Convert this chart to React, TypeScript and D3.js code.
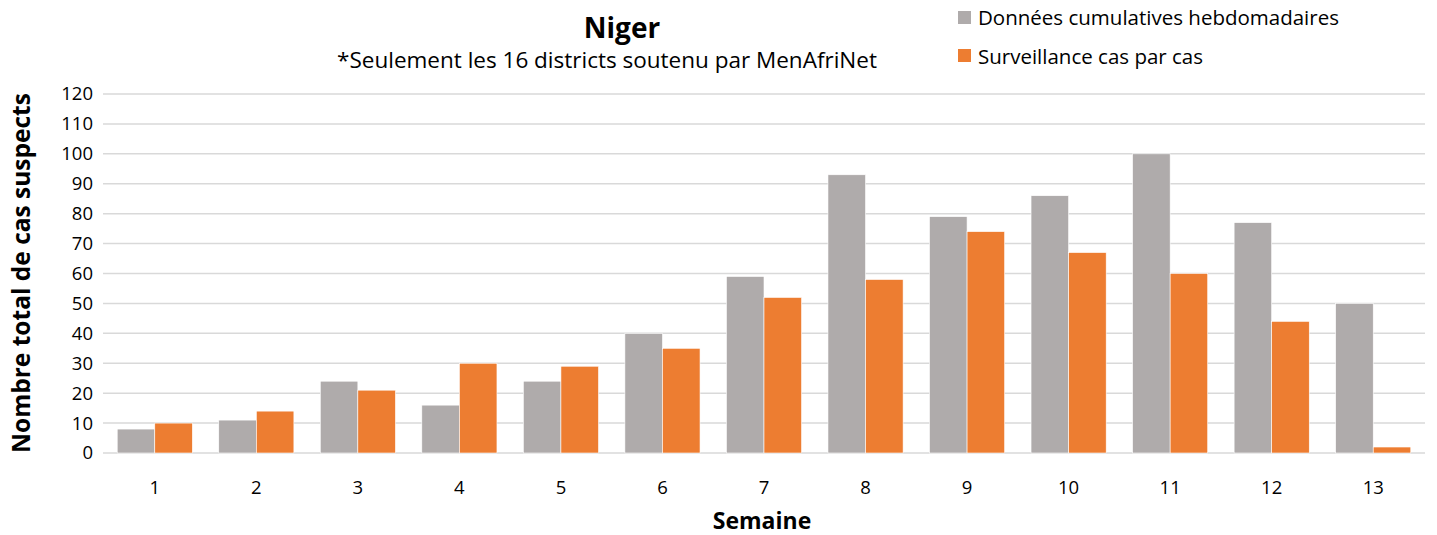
import React from "react";
import * as d3 from "d3";

const weeks = ["1", "2", "3", "4", "5", "6", "7", "8", "9", "10", "11", "12", "13"];
const cumulative = [8, 11, 24, 16, 24, 40, 59, 93, 79, 86, 100, 77, 50];
const caseByCase = [10, 14, 21, 30, 29, 35, 52, 58, 74, 67, 60, 44, 2];
const seriesNames = ["Données cumulatives hebdomadaires", "Surveillance cas par cas"];
const seriesColors = ["#afabab", "#ed7d31"];
const yTicks = [0, 10, 20, 30, 40, 50, 60, 70, 80, 90, 100, 110, 120];

const W = 1437;
const H = 535;
const margin = { left: 103, right: 12, top: 94 };
const FONT = "'Open Sans', 'Liberation Sans', sans-serif";

export default function App() {
  const x = d3.scaleBand<string>().domain(weeks).range([margin.left, W - margin.right]).paddingInner(0.26).paddingOuter(0.14);
  const inner = d3.scaleBand<number>().domain([0, 1]).range([0, x.bandwidth()]);
  const y0 = 453;
  const yS = d3.scaleLinear().domain([0, 120]).range([y0, margin.top]);
  const data = [cumulative, caseByCase];
  return (
    <svg width={W} height={H} style={{ position: "absolute", left: 0, top: 0, background: "#fff" }} fontFamily={FONT}>
      {yTicks.map((t) => (
        <g key={t}>
          <line x1={margin.left} x2={W - margin.right} y1={yS(t)} y2={yS(t)} stroke="#d9d9d9" strokeWidth={1.5} />
          <text x={93} y={yS(t)} dy="0.35em" textAnchor="end" fontSize={18.5} fill="#000">{t}</text>
        </g>
      ))}
      {weeks.map((w, i) => (
        <g key={w}>
          {data.map((s, k) => (
            <rect
              key={k}
              x={(x(w) as number) + (inner(k) as number)}
              y={yS(s[i])}
              width={inner.bandwidth()}
              height={y0 - yS(s[i])}
              fill={seriesColors[k]}
              stroke="#fff"
              strokeWidth={0.6}
            />
          ))}
          <text x={(x(w) as number) + x.bandwidth() / 2} y={494} textAnchor="middle" fontSize={18.5} fill="#000">{w}</text>
        </g>
      ))}
      <text x={622} y={38} textAnchor="middle" fontSize={28} fontWeight="bold">Niger</text>
      <text x={607} y={68} textAnchor="middle" fontSize={22.5}>*Seulement les 16 districts soutenu par MenAfriNet</text>
      {seriesNames.map((n, k) => (
        <g key={n}>
          <rect x={958} y={[11, 49][k]} width={13} height={13} fill={seriesColors[k]} />
          <text x={978} y={[18, 57][k]} dy="0.35em" fontSize={20.5}>{n}</text>
        </g>
      ))}
      <text x={762} y={529} textAnchor="middle" fontSize={23} fontWeight="bold">Semaine</text>
      <text transform={`translate(30,273) rotate(-90)`} textAnchor="middle" fontSize={24.5} fontWeight="bold">Nombre total de cas suspects</text>
    </svg>
  );
}
